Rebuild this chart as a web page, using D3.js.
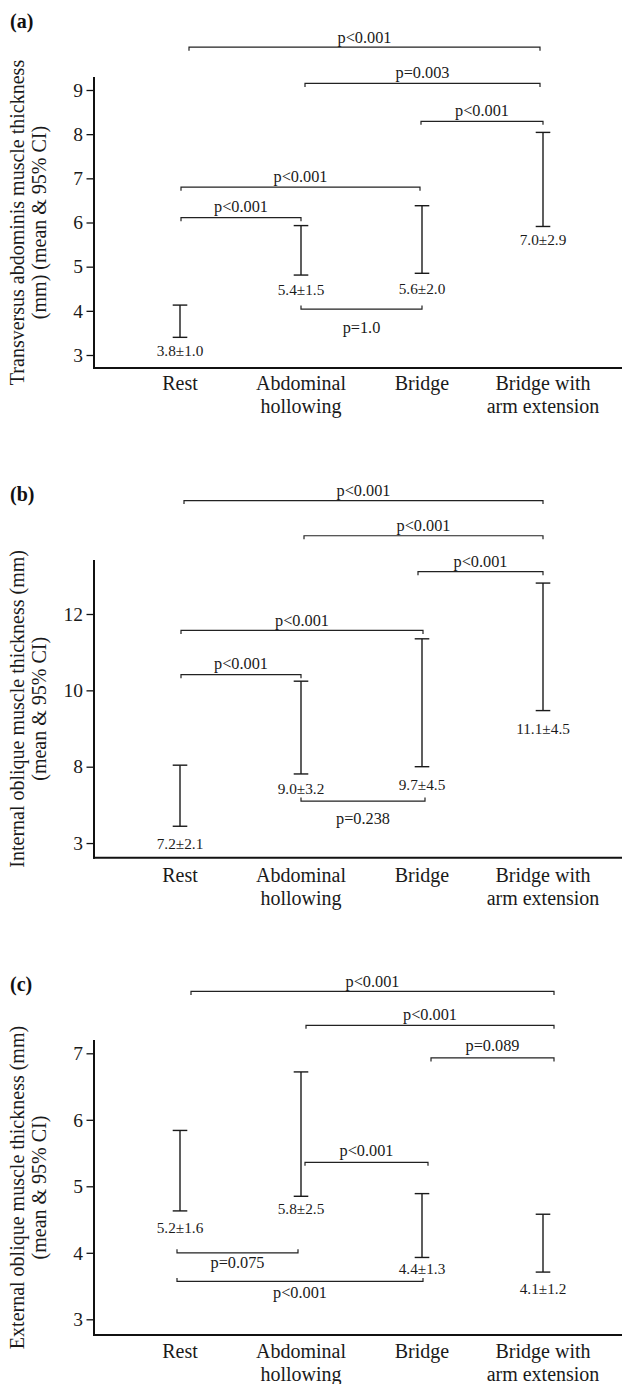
<!DOCTYPE html>
<html><head><meta charset="utf-8">
<script src="https://cdn.jsdelivr.net/npm/d3@7/dist/d3.min.js"></script>
<style>body{margin:0;background:#fff}svg{display:block}</style>
</head><body>
<script>
// ---------- DATA ----------
const categories = [["Rest"], ["Abdominal", "hollowing"], ["Bridge"], ["Bridge with", "arm extension"]];

// Panel (a) Transversus abdominis — 95% CI bounds
const aLower = [3.40, 4.81, 4.85, 5.91];
const aUpper = [4.13, 5.93, 6.38, 8.04];
const aMeanLabels = ["3.8±1.0", "5.4±1.5", "5.6±2.0", "7.0±2.9"];
const aTicks = [3, 4, 5, 6, 7, 8, 9];
const aTickLabels = ["3", "4", "5", "6", "7", "8", "9"];
const aTitle = ["Transversus abdominis muscle thickness", "(mm) (mean & 95% CI)"];
const aComparisons = [[0, 3, "p<0.001"], [1, 3, "p=0.003"], [2, 3, "p<0.001"], [0, 2, "p<0.001"], [0, 1, "p<0.001"], [1, 2, "p=1.0"]];

// Panel (b) Internal oblique
const bLower = [6.44, 7.81, 8.00, 9.47];
const bUpper = [8.04, 10.24, 11.35, 12.81];
const bMeanLabels = ["7.2±2.1", "9.0±3.2", "9.7±4.5", "11.1±4.5"];
const bTicks = [6, 8, 10, 12];
const bTickLabels = ["3", "8", "10", "12"];
const bTitle = ["Internal oblique muscle thickness (mm)", "(mean & 95% CI)"];
const bComparisons = [[0, 3, "p<0.001"], [1, 3, "p<0.001"], [2, 3, "p<0.001"], [0, 2, "p<0.001"], [0, 1, "p<0.001"], [1, 2, "p=0.238"]];

// Panel (c) External oblique
const cLower = [4.63, 4.85, 3.93, 3.71];
const cUpper = [5.84, 6.72, 4.89, 4.58];
const cMeanLabels = ["5.2±1.6", "5.8±2.5", "4.4±1.3", "4.1±1.2"];
const cTicks = [3, 4, 5, 6, 7];
const cTickLabels = ["3", "4", "5", "6", "7"];
const cTitle = ["External oblique muscle thickness (mm)", "(mean & 95% CI)"];
const cComparisons = [[0, 3, "p<0.001"], [1, 3, "p<0.001"], [2, 3, "p=0.089"], [1, 2, "p<0.001"], [0, 1, "p=0.075"], [0, 2, "p<0.001"]];

// ---------- LAYOUT (positions / styles) ----------
const SERIF = "'Liberation Serif', 'Times New Roman', serif";
const W = 622, H = 1384;
const AXIS_X = 94, AXIS_RIGHT = 622;
const INK = "#1a1a1a";

const panels = [
  { tag: "(a)", tagY: 28, lower: aLower, upper: aUpper, means: aMeanLabels, ticks: aTicks, tickLabels: aTickLabels,
    title: aTitle, comps: aComparisons,
    domain: [3, 9], range: [355, 90], axisTop: 77, axisBottom: 368, catY: 389.5,
    meanOff: [13.4, 14.3, 16, 13],
    // bracket level (data units), direction (1 = ticks down / label above, -1 = ticks up / label below), dx1, dx2, label offset
    brackets: [[9.97, 1, 9, -3, -10], [9.15, 1, 4, -3, -10.6], [8.29, 1, -1, 0, -11], [6.80, 1, 1, -2, -11], [6.11, 1, 1, 0, -11], [4.04, -1, 0, 0, 18.7]] },
  { tag: "(b)", tagY: 501, lower: bLower, upper: bUpper, means: bMeanLabels, ticks: bTicks, tickLabels: bTickLabels,
    title: bTitle, comps: bComparisons,
    domain: [8, 12], range: [766.7, 614], axisTop: 560, axisBottom: 857.7, catY: 881.5,
    meanOff: [17.7, 14.7, 17.7, 18.3],
    brackets: [[14.97, 1, 4, 0, -10.5], [14.05, 1, 3, 0, -10], [13.11, 1, -4, 0, -10], [11.57, 1, 1, 1, -10], [10.41, 1, 1, 0, -11], [7.10, -1, 0, 3, 17.3]] },
  { tag: "(c)", tagY: 991, lower: cLower, upper: cUpper, means: cMeanLabels, ticks: cTicks, tickLabels: cTickLabels,
    title: cTitle, comps: cComparisons,
    domain: [3, 7], range: [1319.3, 1053.3], axisTop: 1040, axisBottom: 1335, catY: 1358,
    meanOff: [16.7, 12.3, 11.7, 17],
    brackets: [[7.93, 1, 11, 11, -10], [7.42, 1, 5, 11, -11], [6.93, 1, 9, 11, -12.4], [5.36, 1, 4, 6, -11.3], [4.00, -1, -3, -3, 10], [3.57, -1, -3, 1, 11.6]] }
];

// ---------- DRAW ----------
const svg = d3.select("body").append("svg").attr("width", W).attr("height", H);
const x = d3.scalePoint().domain(d3.range(categories.length)).range([180, 543]);

panels.forEach(p => {
  const y = d3.scaleLinear().domain(p.domain).range(p.range);
  const g = svg.append("g");

  // panel tag
  g.append("text").attr("x", 10).attr("y", p.tagY).text(p.tag)
    .attr("font-family", SERIF).attr("font-size", 20).attr("font-weight", "bold").attr("fill", "#111");

  // y axis ticks
  const ax = d3.axisLeft(y).tickValues(p.ticks).tickFormat((d, i) => p.tickLabels[i])
    .tickSize(7.5).tickPadding(3.5).tickSizeOuter(0);
  const ga = g.append("g").attr("transform", `translate(${AXIS_X},0)`).call(ax);
  ga.select(".domain").remove();
  ga.selectAll(".tick line").attr("stroke", "#111").attr("stroke-width", 1.3);
  ga.selectAll(".tick text").attr("font-family", SERIF).attr("font-size", 19.5).attr("fill", INK);

  // axis lines
  g.append("line").attr("x1", AXIS_X).attr("x2", AXIS_X).attr("y1", p.axisTop).attr("y2", p.axisBottom + 1)
    .attr("stroke", "#111").attr("stroke-width", 2);
  g.append("line").attr("x1", AXIS_X - 1).attr("x2", AXIS_RIGHT).attr("y1", p.axisBottom).attr("y2", p.axisBottom)
    .attr("stroke", "#111").attr("stroke-width", 2);

  // y title
  const cy = (p.axisTop + p.axisBottom) / 2;
  [24, 46].forEach((bx, i) => {
    g.append("text").attr("transform", `translate(${bx},${cy}) rotate(-90)`)
      .attr("text-anchor", "middle").attr("font-family", SERIF).attr("font-size", 20).attr("fill", INK)
      .text(p.title[i]);
  });

  // category labels
  categories.forEach((lines, i) => {
    lines.forEach((t, j) => {
      g.append("text").attr("x", x(i)).attr("y", p.catY + j * 23).attr("text-anchor", "middle")
        .attr("font-family", SERIF).attr("font-size", 20).attr("fill", INK).text(t);
    });
  });

  // error bars
  const capW = 7.3;
  const eb = g.selectAll(".eb").data(d3.range(categories.length)).enter().append("g")
    .attr("stroke", "#1a1a1a").attr("stroke-width", 1.4).attr("fill", "none");
  eb.append("line").attr("x1", i => x(i)).attr("x2", i => x(i)).attr("y1", i => y(p.upper[i])).attr("y2", i => y(p.lower[i]));
  eb.append("line").attr("x1", i => x(i) - capW).attr("x2", i => x(i) + capW).attr("y1", i => y(p.upper[i])).attr("y2", i => y(p.upper[i]));
  eb.append("line").attr("x1", i => x(i) - capW).attr("x2", i => x(i) + capW).attr("y1", i => y(p.lower[i])).attr("y2", i => y(p.lower[i]));

  // mean labels
  g.selectAll(".ml").data(d3.range(categories.length)).enter().append("text")
    .attr("x", i => x(i)).attr("y", i => y(p.lower[i]) + p.meanOff[i] + 5.2)
    .attr("text-anchor", "middle").attr("font-family", SERIF).attr("font-size", 15.3).attr("fill", INK)
    .text(i => p.means[i]);

  // comparison brackets
  p.comps.forEach((c, k) => {
    const [lv, dir, dx1, dx2, lo] = p.brackets[k];
    const x1 = x(c[0]) + dx1, x2 = x(c[1]) + dx2, yy = y(lv);
    const t = 3.5 * dir;
    g.append("path").attr("d", `M${x1},${yy + t}V${yy}H${x2}V${yy + t}`)
      .attr("fill", "none").attr("stroke", "#222").attr("stroke-width", 1.2);
    g.append("text").attr("x", (x1 + x2) / 2).attr("y", yy + lo + 5.4).attr("text-anchor", "middle")
      .attr("font-family", SERIF).attr("font-size", 16.3).attr("fill", INK).text(c[2]);
  });
});
</script>
</body></html>
